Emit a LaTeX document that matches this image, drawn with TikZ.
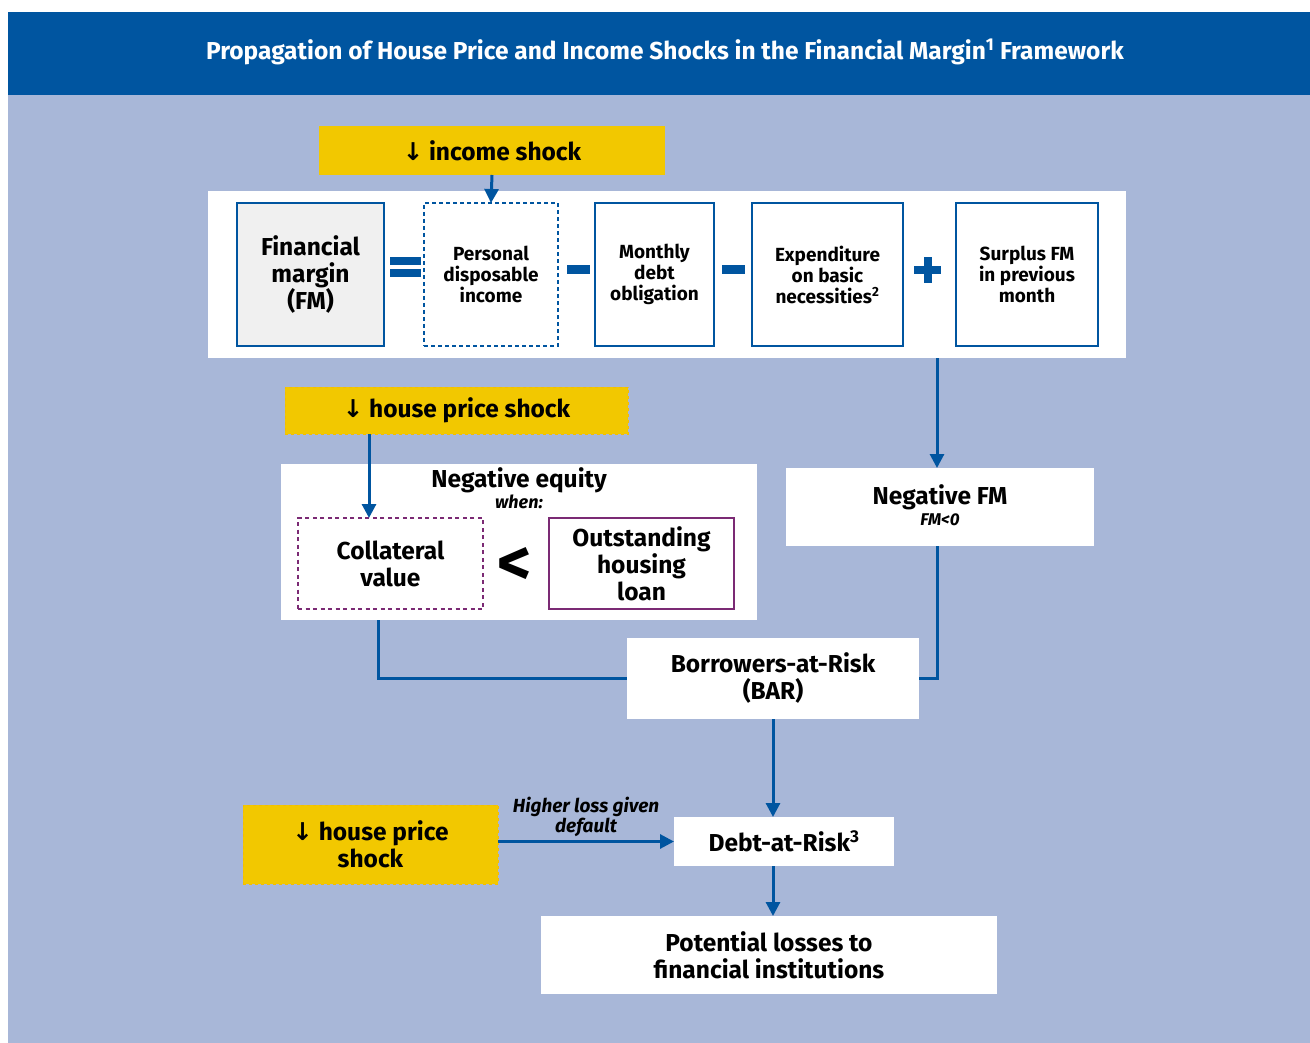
\documentclass[tikz,border=0pt]{standalone}
\usepackage{fontspec}
\setmainfont{Fira Sans}
\newfontfamily\arrowfont{DejaVu Sans}
\usetikzlibrary{arrows.meta}

\definecolor{bankblue}{RGB}{0,85,160}
\definecolor{bgblue}{RGB}{168,183,216}
\definecolor{shockyellow}{RGB}{242,200,0}
\definecolor{loanpurple}{RGB}{123,42,116}
\definecolor{fmgray}{RGB}{240,240,240}

\newcommand{\dnarrow}{{\arrowfont\bfseries ↓}}

\tikzset{
  box/.style={rectangle, inner sep=0pt, outer sep=0pt, align=center},
  bigtxt/.style={font=\fontsize{24.5}{27}\selectfont\bfseries},
  smalltxt/.style={font=\fontsize{19}{21}\selectfont\bfseries},
  subtxt/.style={font=\fontsize{18}{20}\selectfont\bfseries\itshape},
  termbox/.style={box, draw=bankblue, line width=2.5pt, fill=white, smalltxt},
  shockbox/.style={box, fill=shockyellow, draw=shockyellow!85!orange, dashed, thin, bigtxt},
  whitebox/.style={box, fill=white, bigtxt},
  conn/.style={draw=bankblue, line width=3pt},
  connarrow/.style={conn, -{Triangle[width=14pt,length=14pt]}},
  opbar/.style={fill=bankblue}
}

\begin{document}
\begin{tikzpicture}[x=1pt, y=-1pt]
  \useasboundingbox (0,0) rectangle (1310,1043);

  %% Background and banner
  \fill[white] (0,0) rectangle (1310,1043);
  \fill[bgblue] (8,95) rectangle (1310,1043);
  \fill[bankblue] (8,12) rectangle (1310,95);
  \node[text=white, bigtxt] (title) at (665,52)
    {Propagation of House Price and Income Shocks in the Financial Margin\textsuperscript{1} Framework};

  %% Income shock and FM equation
  \node[shockbox, draw=none, minimum width=346pt, minimum height=49pt] (income) at (492,150.5)
    {\dnarrow\ income shock};
  \node[whitebox, minimum width=918pt, minimum height=167pt] (panel) at (667,274.5) {};
  \node[termbox, fill=fmgray, bigtxt, minimum width=147pt, minimum height=143pt] (fm) at (310.5,274.5)
    {Financial\\margin\\(FM)};
  \node[termbox, dash pattern=on 4pt off 3pt, minimum width=134pt, minimum height=143pt] (pdi) at (491,274.5)
    {Personal\\disposable\\income};
  \node[termbox, minimum width=119pt, minimum height=143pt] (mdo) at (654.5,274.5)
    {Monthly\\debt\\obligation};
  \node[termbox, minimum width=151pt, minimum height=143pt] (ebn) at (827.5,274.5)
    {Expenditure\\on basic\\necessities\textsuperscript{2}};
  \node[termbox, minimum width=142pt, minimum height=143pt] (sfm) at (1027,274.5)
    {Surplus FM\\in previous\\month};

  %% Operators
  \fill[opbar] (390,257) rectangle (421,265.5);
  \fill[opbar] (390,269) rectangle (421,277.5);
  \fill[opbar] (567,265) rectangle (590,274);
  \fill[opbar] (722,265) rectangle (745,274);
  \fill[opbar] (914,266) rectangle (941,274.5);
  \fill[opbar] (923.5,257) rectangle (931.5,283.5);

  \draw[connarrow] (income.south) -- (pdi.north);

  %% Negative equity
  \node[shockbox, minimum width=343pt, minimum height=47pt] (hpsone) at (456.5,410.5)
    {\dnarrow\ house price shock};
  \node[whitebox, minimum width=476pt, minimum height=156pt] (neq) at (519,542) {};
  \node[bigtxt] (neqtitle) at (519,480) {Negative equity};
  \node[subtxt] (neqwhen) at (519,502) {when:};
  \node[box, draw=loanpurple, line width=2pt, dash pattern=on 4pt off 3.5pt, fill=white, bigtxt,
    minimum width=185pt, minimum height=91pt] (coll) at (390.5,563.5) {Collateral\\value};
  \node[font=\fontsize{66}{66}\selectfont\bfseries] (less) at (515,566) {<};
  \node[box, draw=loanpurple, line width=2pt, fill=white, bigtxt,
    minimum width=185pt, minimum height=91pt] (ohl) at (641.5,563.5) {Outstanding\\housing\\loan};
  \draw[connarrow] (hpsone.south -| 369,0) -- (coll.north -| 369,0);

  %% Negative FM
  \node[whitebox, minimum width=308pt, minimum height=78pt] (nfm) at (940,507) {};
  \node[bigtxt] (nfmtext) at (940,497) {Negative FM};
  \node[font=\fontsize{17}{18}\selectfont\bfseries\itshape] (nfmsub) at (940,520) {FM<0};
  \draw[connarrow] ([xshift=-3pt]nfm.north |- panel.south) -- ([xshift=-3pt]nfm.north);

  %% Borrowers-at-Risk
  \node[whitebox, minimum width=292pt, minimum height=81pt] (bar) at (773,678.5)
    {Borrowers-at-Risk\\(BAR)};
  \draw[conn] (neq.south -| 378,0) |- (bar.west);
  \draw[conn] ([xshift=-3pt]nfm.south) |- (bar.east);

  %% Debt-at-Risk
  \node[whitebox, minimum width=220pt, minimum height=49pt] (dar) at (784,841.5)
    {Debt-at-Risk\textsuperscript{3}};
  \node[shockbox, minimum width=255pt, minimum height=79pt] (hpstwo) at (370.5,844.5)
    {\dnarrow\ house price\\shock};
  \draw[connarrow] (bar.south) -- (bar.south |- dar.north);
  \draw[connarrow] (hpstwo.east |- dar.west) -- (dar.west)
    node[midway, above=0pt, font=\fontsize{19}{20}\selectfont\bfseries\itshape, align=center] (lgd)
    {Higher loss given\\default};

  %% Potential losses
  \node[whitebox, minimum width=456pt, minimum height=78pt] (pl) at (769,955)
    {Potential losses to\\financial institutions};
  \draw[connarrow] (dar.south -| bar.south) -- (pl.north -| bar.south);

\end{tikzpicture}
\end{document}
